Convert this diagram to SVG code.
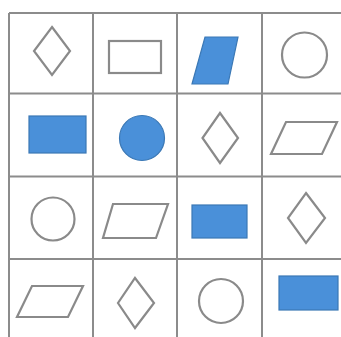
<svg xmlns="http://www.w3.org/2000/svg" width="341" height="337" viewBox="0 0 341 337">
<style>
.grid{stroke:#8c8c8c;stroke-width:2;fill:none}
.o{fill:none;stroke:#8a8a8a;stroke-width:2.2}
.f{fill:#4a90d9;stroke:#3b78b5;stroke-width:1.2}
</style>
<rect width="341" height="337" fill="#ffffff"/>
<g id="grid" class="grid">
<line x1="9" y1="13" x2="9" y2="337"/>
<line x1="93" y1="13" x2="93" y2="337"/>
<line x1="177" y1="13" x2="177" y2="337"/>
<line x1="262" y1="13" x2="262" y2="337"/>
<line x1="9" y1="13" x2="341" y2="13"/>
<line x1="9" y1="93.5" x2="341" y2="93.5"/>
<line x1="9" y1="176.5" x2="341" y2="176.5"/>
<line x1="9" y1="259" x2="341" y2="259"/>
</g>
<g id="r1c1"><polygon class="o" points="52,27 70,51 52,75 34,51"/></g>
<g id="r1c2"><rect class="o" x="109" y="41" width="52" height="32"/></g>
<g id="r1c3"><polygon class="f" points="205,37 238,37 228,84 192,84"/></g>
<g id="r1c4"><circle class="o" cx="304.5" cy="55" r="22.5"/></g>
<g id="r2c1"><rect class="f" x="29" y="116" width="57" height="37"/></g>
<g id="r2c2"><circle class="f" cx="142" cy="138" r="22.5"/></g>
<g id="r2c3"><polygon class="o" points="220,113 238,138 220,163 202.5,138"/></g>
<g id="r2c4"><polygon class="o" points="286,122 337,122 322,154 271,154"/></g>
<g id="r3c1"><circle class="o" cx="53" cy="219" r="21.5"/></g>
<g id="r3c2"><polygon class="o" points="113,204 168,204 156,238 103,238"/></g>
<g id="r3c3"><rect class="f" x="192" y="205" width="55" height="33"/></g>
<g id="r3c4"><polygon class="o" points="306,193 325,218 306,243 288,218"/></g>
<g id="r4c1"><polygon class="o" points="32,286 83,286 68,317 17,317"/></g>
<g id="r4c2"><polygon class="o" points="135,278 154,303 135,328 118,303"/></g>
<g id="r4c3"><circle class="o" cx="221" cy="301" r="22"/></g>
<g id="r4c4"><rect class="f" x="279" y="276" width="59" height="34"/></g>
</svg>
